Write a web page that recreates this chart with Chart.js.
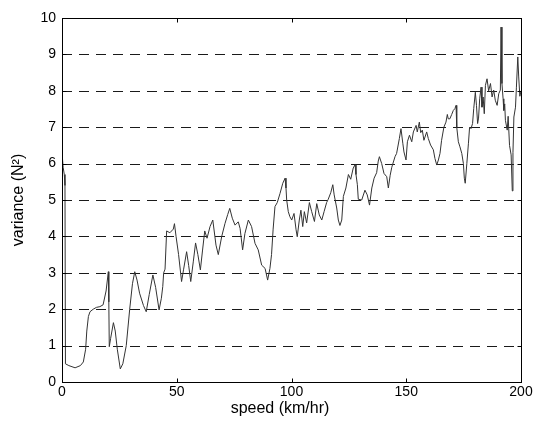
<!DOCTYPE html>
<html>
<head>
<meta charset="utf-8">
<script src="https://cdn.jsdelivr.net/npm/chart.js@4.4.1/dist/chart.umd.min.js"></script>
<style>
  html, body { margin: 0; padding: 0; background: #fff; }
  #wrap { width: 544px; height: 429px; }
</style>
</head>
<body>
<div id="wrap"><canvas id="c" width="544" height="429"></canvas></div>
<script>
// Measured variance of the force signal against vehicle speed
const speeds = [
  0, 0.5, 1.0, 1.3, 1.5, 3, 5.7, 8, 9.3, 10.3, 10.8, 11.5, 12.2, 13.6, 15, 16.5, 17.9, 19.2, 20.2, 20.4,
  20.6, 21.2, 22.4, 23.2, 24.1, 25.4, 26.5, 28, 29.5, 30.7, 31.7, 32.7, 33.8, 35.5, 36.7, 38, 39.6, 40.8, 42.3, 43.3,
  43.9, 44.3, 44.9, 45.6, 47, 48.5, 49, 49.7, 50.8, 52.1, 53, 54.3, 55.2, 56.1, 57.2, 58.2, 59.2, 60.3, 61.2, 62.2,
  63.2, 64.5, 65.7, 67.1, 68.1, 69.6, 71, 72.2, 73.1, 74.2, 75.4, 76.8, 77.6, 78.7, 79.7, 81.2, 82.6, 84.1, 85.5, 87,
  88.5, 89.6, 90.6, 91.3, 92, 92.8, 93.8, 95, 96.2, 97.2, 97.6, 97.9, 98.6, 99.3, 100.1, 101.1, 102, 102.5, 103.4, 104.1,
  104.9, 105.6, 106.6, 107.8, 108.8, 110, 111, 112.1, 113.2, 114.2, 115.3, 116, 117.1, 118, 118.6, 119.7, 120.4, 121.1, 121.9, 122.6,
  123.7, 124.8, 125.8, 126.9, 127.7, 128.1, 128.7, 129.1, 130.6, 132, 133, 134, 135, 136, 137.1, 137.8, 138.3, 139.3, 140.3, 141.5,
  142.2, 143, 143.7, 145.1, 145.8, 147, 147.7, 148.5, 149, 149.9, 150.5, 151.4, 152.4, 153.1, 154.3, 154.8, 155.7, 156.3, 157, 157.7,
  158.9, 159.6, 160.6, 161.8, 162.5, 163.3, 164, 164.7, 165.4, 166.4, 167.3, 167.9, 168.3, 169, 169.8, 170.5, 171.2, 171.7, 172, 172.7,
  173.4, 174.2, 174.9, 175.3, 175.7, 176.4, 177.1, 177.6, 178.2, 178.9, 179.4, 180.1, 180.6, 181.1, 181.5, 182, 182.6, 183, 183.5, 184,
  184.5, 185.2, 185.9, 186.7, 187.4, 188.1, 188.8, 189.6, 190.3, 191, 191.3, 191.7, 192.2, 192.5, 192.9, 193.2, 194, 194.4, 195, 195.7,
  196.2, 196.5, 196.9, 197.6, 198, 198.6, 199, 199.5, 200
];
const variances = [
  6.3, 5.9, 5.7, 5.4, 0.5, 0.45, 0.39, 0.45, 0.55, 0.9, 1.4, 1.8, 1.93, 2.0, 2.05, 2.07, 2.12, 2.5, 3.03, 2.2,
  0.97, 1.2, 1.63, 1.4, 0.9, 0.36, 0.5, 1.0, 2.0, 2.7, 3.03, 2.8, 2.44, 2.1, 1.93, 2.4, 2.94, 2.6, 1.98, 2.3,
  2.62, 3.0, 3.1, 4.15, 4.1, 4.2, 4.35, 4.0, 3.5, 2.76, 3.1, 3.58, 3.2, 2.76, 3.3, 3.82, 3.5, 3.08, 3.6, 4.15,
  3.95, 4.27, 4.45, 3.76, 3.5, 4.0, 4.35, 4.6, 4.77, 4.5, 4.31, 4.4, 4.22, 3.63, 4.08, 4.45, 4.27, 3.81, 3.63, 3.21,
  3.12, 2.8, 3.12, 3.5, 4.2, 4.82, 4.93, 5.18, 5.46, 5.6, 5.33, 5.0, 4.68, 4.54, 4.45, 4.63, 4.18, 3.99, 4.45, 4.72,
  4.27, 4.68, 4.37, 4.93, 4.68, 4.41, 4.9, 4.59, 4.45, 4.68, 4.93, 5.02, 5.2, 5.42, 5.14, 4.78, 4.45, 4.3, 4.45, 5.1,
  5.33, 5.7, 5.57, 5.88, 5.97, 5.7, 5.42, 5.02, 5.0, 5.27, 5.14, 4.86, 5.33, 5.6, 5.75, 6.07, 6.19, 6.0, 5.73, 5.64,
  5.33, 5.68, 5.9, 6.19, 6.28, 6.69, 6.96, 6.56, 6.32, 6.1, 6.6, 6.78, 6.6, 6.87, 7.05, 6.87, 7.14, 6.85, 6.92, 6.64,
  6.87, 6.69, 6.51, 6.38, 6.14, 5.96, 6.1, 6.28, 6.64, 7.0, 7.14, 7.35, 7.23, 7.23, 7.35, 7.46, 7.51, 7.6, 7.0, 6.6,
  6.46, 6.28, 6.0, 5.6, 5.46, 6.0, 6.56, 7.0, 6.96, 7.1, 7.51, 7.96, 7.6, 7.1, 7.25, 7.78, 8.1, 7.55, 7.83, 7.37,
  8.15, 8.33, 8.0, 8.2, 7.83, 8.02, 7.74, 7.6, 7.92, 8.02, 9.75, 8.2, 7.78, 7.46, 7.64, 7.19, 6.92, 7.3, 6.5, 6.24,
  5.25, 6.3, 7.28, 7.55, 8.1, 8.93, 8.38, 7.85, 8.0
];

// Axis ticks
const xTicks = [0, 50, 100, 150, 200];
const yTicks = [0, 1, 2, 3, 4, 5, 6, 7, 8, 9, 10];
const xTitle = 'speed (km/hr)';
const yTitle = 'variance (N\u00B2)';

const points = speeds.map((s, i) => ({ x: s, y: variances[i] }));

// Frame, dashed horizontal grid, inward tick marks and axis titles
const framePlugin = {
  id: 'frame',
  beforeDatasetsDraw(chart) {
    const { ctx, chartArea: a, scales } = chart;
    const ys = scales.y;
    ctx.save();
    ctx.strokeStyle = '#1a1a1a';
    ctx.lineWidth = 1;
    ctx.setLineDash([10, 7]);
    yTicks.forEach(v => {
      if (v === yTicks[0] || v === yTicks[yTicks.length - 1]) return;
      const py = Math.round(ys.getPixelForValue(v)) + 0.5;
      ctx.beginPath();
      ctx.moveTo(a.left, py);
      ctx.lineTo(a.right, py);
      ctx.stroke();
    });
    ctx.restore();
  },
  afterDraw(chart) {
    const { ctx, chartArea: a, scales } = chart;
    const xs = scales.x, ys = scales.y;
    ctx.save();
    ctx.strokeStyle = '#000';
    ctx.lineWidth = 1;
    ctx.setLineDash([]);
    const L = Math.round(a.left) + 0.5, R = Math.round(a.right) + 0.5;
    const T = Math.round(a.top) + 0.5, B = Math.round(a.bottom) + 0.5;
    ctx.strokeRect(L, T, R - L, B - T);
    const tl = 4;
    ctx.beginPath();
    xTicks.forEach(v => {
      const px = Math.round(xs.getPixelForValue(v)) + 0.5;
      ctx.moveTo(px, B); ctx.lineTo(px, B - tl);
      ctx.moveTo(px, T); ctx.lineTo(px, T + tl);
    });
    yTicks.forEach(v => {
      const py = Math.round(ys.getPixelForValue(v)) + 0.5;
      ctx.moveTo(L, py); ctx.lineTo(L + tl, py);
      ctx.moveTo(R, py); ctx.lineTo(R - tl, py);
    });
    ctx.stroke();

    ctx.fillStyle = '#000';
    ctx.font = '16px "Liberation Sans", Arial, sans-serif';
    ctx.textAlign = 'center';
    ctx.textBaseline = 'middle';
    ctx.fillText(xTitle, 280, 409);
    ctx.translate(19, (a.top + a.bottom) / 2);
    ctx.rotate(-Math.PI / 2);
    ctx.fillText(yTitle, 0, 0);
    ctx.restore();
  }
};

new Chart(document.getElementById('c'), {
  type: 'line',
  data: {
    datasets: [{
      data: points,
      borderColor: '#333',
      borderWidth: 1,
      pointRadius: 0,
      tension: 0,
      fill: false
    }]
  },
  options: {
    responsive: false,
    animation: false,
    events: [],
    layout: { padding: { left: 0, right: 23, top: 18, bottom: 0 } },
    plugins: { legend: { display: false }, tooltip: { enabled: false } },
    scales: {
      x: {
        type: 'linear',
        min: 0, max: 200,
        afterBuildTicks: s => { s.ticks = xTicks.map(v => ({ value: v })); },
        afterFit: s => { s.height = 47; },
        grid: { display: false, drawTicks: false },
        border: { display: false },
        ticks: {
          color: '#000',
          padding: 2,
          maxRotation: 0,
          font: { family: '"Liberation Sans", Arial, sans-serif', size: 14 }
        }
      },
      y: {
        type: 'linear',
        min: 0, max: 10,
        afterBuildTicks: s => { s.ticks = yTicks.map(v => ({ value: v })); },
        afterFit: s => { s.width = 62; },
        grid: { display: false, drawTicks: false },
        border: { display: false },
        ticks: {
          color: '#000',
          padding: 6,
          font: { family: '"Liberation Sans", Arial, sans-serif', size: 14 }
        }
      }
    }
  },
  plugins: [framePlugin]
});
</script>
</body>
</html>
